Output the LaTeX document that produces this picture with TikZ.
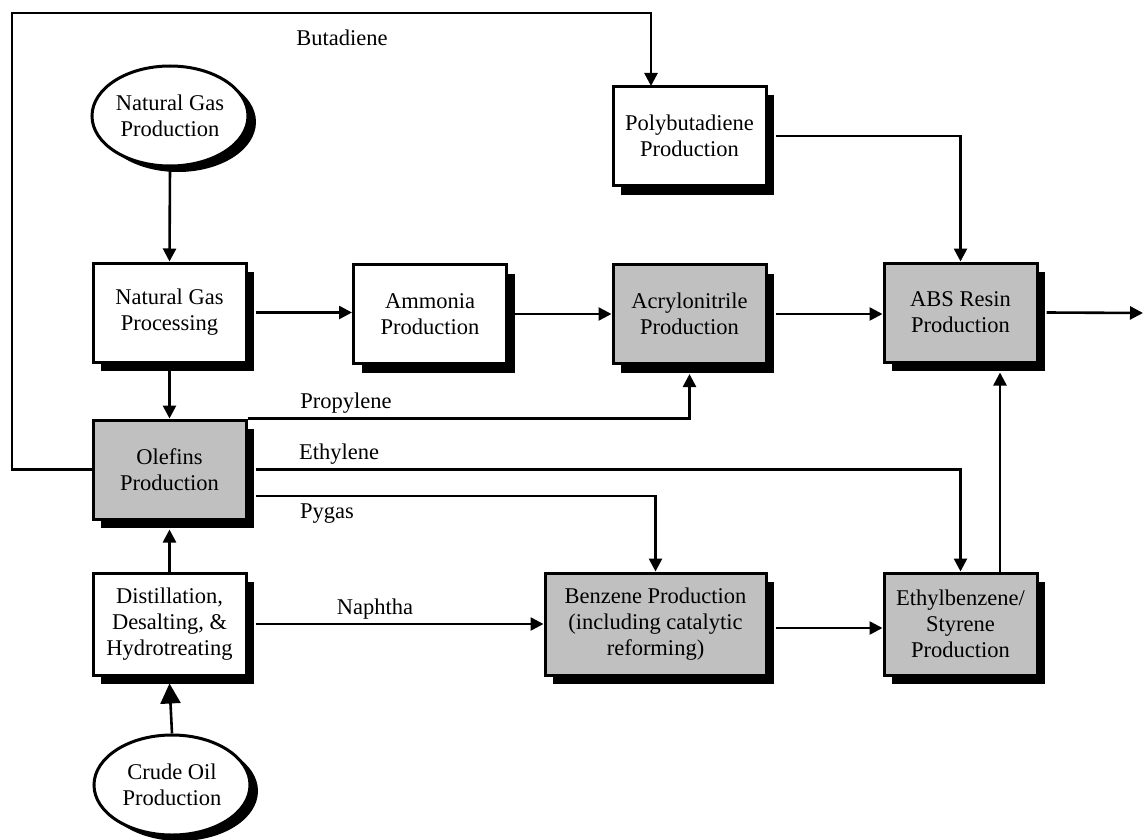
\documentclass[tikz,border=0pt]{standalone}
\usepackage{fontspec}
\setmainfont{Liberation Serif}
\usetikzlibrary{arrows.meta,shapes.geometric,shadows,calc}
\definecolor{boxgray}{HTML}{C0C0C0}
\begin{document}
\begin{tikzpicture}[x=1pt,y=-1pt,
  every node/.style={font=\fontsize{22.5}{26}\selectfont},
  proc/.style={draw=black, line width=3pt, fill=white, align=center, inner sep=0pt,
    minimum width=153pt, minimum height=99pt,
    drop shadow={shadow xshift=8pt, shadow yshift=-9pt, opacity=1, fill=black}},
  grayproc/.style={proc, fill=boxgray},
  source/.style={ellipse, draw=black, line width=3pt, fill=white, align=center, inner sep=0pt,
    minimum width=156pt, minimum height=100pt,
    drop shadow={shadow xshift=8pt, shadow yshift=-6pt, opacity=1, fill=black}},
  arr/.style={line width=2.6pt, -{Triangle[length=13pt,width=13pt]}},
  bigarr/.style={line width=2.6pt, -{Triangle[length=20pt,width=20pt]}},
  lbl/.style={inner sep=0pt}
]
\useasboundingbox (0,0) rectangle (1143,840);

% nodes
\node[source] (ngp) at (170,116) {Natural Gas\\Production};
\node[source] (crude) at (172,785) {Crude Oil\\Production};
\node[proc] (ngproc) at (169.5,312.5) {Natural Gas\\Processing};
\node[proc] (amm) at (430,314) {Ammonia\\Production};
\node[grayproc] (acr) at (689.5,314) {Acrylonitrile\\Production};
\node[grayproc] (abs) at (960.5,312.5) {ABS Resin\\Production};
\node[proc] (pb) at (689.5,136) {Polybutadiene\\Production};
\node[grayproc] (ole) at (169.5,469.5) {Olefins\\Production};
\node[proc, minimum height=102pt] (dist) at (169.5,624) {Distillation,\\Desalting, \&\\Hydrotreating};
\node[grayproc, minimum width=221pt, minimum height=102pt] (bz) at (655.5,624) {Benzene Production\\(including catalytic\\reforming)};
\node[grayproc, minimum height=102pt] (eb) at (960.5,624) {Ethylbenzene/\\Styrene\\Production};

% free-end coordinates
\coordinate (bl) at (12,13);
\coordinate (pbin) at (651,86);
\coordinate (out) at (1143,313);

% connectors
\draw[arr] (ngp.south) -- (ngproc.north);
\draw[arr] (ngproc.south) -- (ole.north);
\draw[arr] ([xshift=8pt]ngproc.east) -- (ngproc.east -| amm.west);
\draw[arr] ([xshift=7pt]amm.east) -- (amm.east -| acr.west);
\draw[arr] ([xshift=8pt]acr.east) -- (acr.east -| abs.west);
\draw[arr] ([xshift=8pt]abs.east) -- (out);
\draw[arr] ([xshift=8pt]pb.east) -| (abs.north);
\draw[arr] (ole.west) -| (bl) -| (pbin);
\draw[arr] (ole.north east) -| ([yshift=-9pt]acr.south);
\draw[arr] ([xshift=8pt]ole.east) -| (eb.north);
\draw[arr] ([xshift=8pt,yshift=-26.5pt]ole.east) -| (bz.north);
\draw[arr] (dist.north) -- ([yshift=-9pt]ole.south);
\draw[bigarr] (crude.north) -- ([yshift=-7pt]dist.south);
\draw[arr] ([xshift=8pt]dist.east) -- (dist.east -| bz.west);
\draw[arr] ([xshift=8pt,yshift=-4pt]bz.east) -- ([yshift=-4pt]bz.east -| eb.west);
\draw[arr] ([xshift=39.5pt]eb.north) -- ([xshift=39.5pt,yshift=-9pt]abs.south);

% labels
\node[lbl] (lbut) at (342,38) {Butadiene};
\node[lbl] (lprop) at (346,403) {Propylene};
\node[lbl] (leth) at (339,454) {Ethylene};
\node[lbl] (lpyg) at (327,514) {Pygas};
\node[lbl] (lnap) at (375,609) {Naphtha};
\end{tikzpicture}
\end{document}
